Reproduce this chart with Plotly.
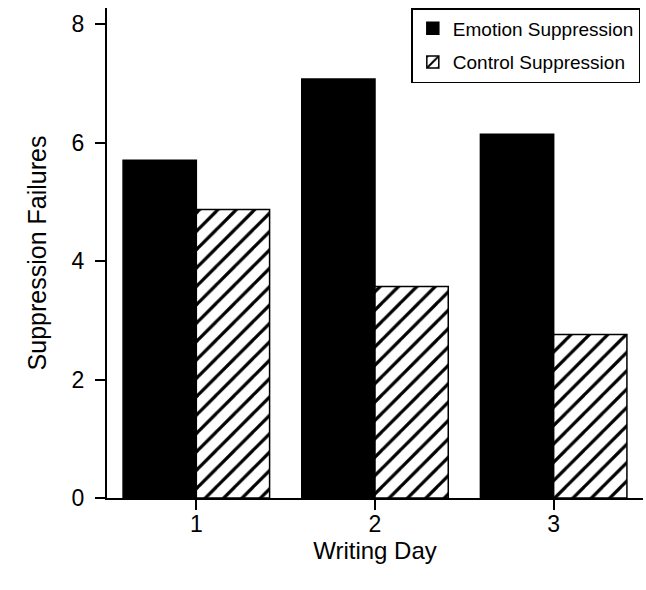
import plotly.graph_objects as go

days = [1, 2, 3]
day_labels = ["1", "2", "3"]
emotion = [5.70, 7.07, 6.14]
control = [4.87, 3.57, 2.76]
y_ticks = [0, 2, 4, 6, 8]

FONT = "Liberation Sans, Arial, Helvetica, sans-serif"

fig = go.Figure()
fig.add_trace(go.Bar(
    x=days, y=emotion, name="Emotion Suppression",
    marker=dict(color="black", line=dict(color="black", width=1.5)),
    legendgroup="a",
))
fig.add_trace(go.Bar(
    x=days, y=control, name="Control Suppression",
    marker=dict(color="white", line=dict(color="black", width=1.5),
                pattern=dict(shape="/", fgcolor="black", bgcolor="white",
                             fgopacity=1, size=13, solidity=0.25)),
    legendgroup="b",
))

fig.update_layout(
    width=646, height=590,
    margin=dict(l=107, r=3, t=8, b=92),
    paper_bgcolor="white", plot_bgcolor="white",
    barmode="group", bargap=0.18, bargroupgap=0,
    font=dict(family=FONT, color="black"),
    showlegend=True,
    legend=dict(
        x=0.995, y=1.0, xanchor="right", yanchor="top",
        bordercolor="black", borderwidth=1.5, bgcolor="white",
        font=dict(size=19, family=FONT),
        tracegroupgap=6,
    ),
    xaxis=dict(
        range=[0.5, 3.5], tickmode="array", tickvals=days, ticktext=day_labels,
        showline=True, linecolor="black", linewidth=2,
        ticks="outside", ticklen=10, tickwidth=2, tickcolor="black",
        showgrid=False, zeroline=False,
        tickfont=dict(size=23), ticklabelstandoff=-6,
        title=dict(text="Writing Day", font=dict(size=24), standoff=6),
    ),
    yaxis=dict(
        range=[0, 8.27], tickmode="array", tickvals=y_ticks,
        showline=True, linecolor="black", linewidth=2,
        ticks="outside", ticklen=10, tickwidth=2, tickcolor="black",
        showgrid=False, zeroline=False,
        tickfont=dict(size=23), ticklabelstandoff=6,
        title=dict(text="Suppression Failures", font=dict(size=25), standoff=18),
    ),
)

fig.write_html("out.html", config={"displayModeBar": False},
               post_script="document.body.style.margin='0';")
